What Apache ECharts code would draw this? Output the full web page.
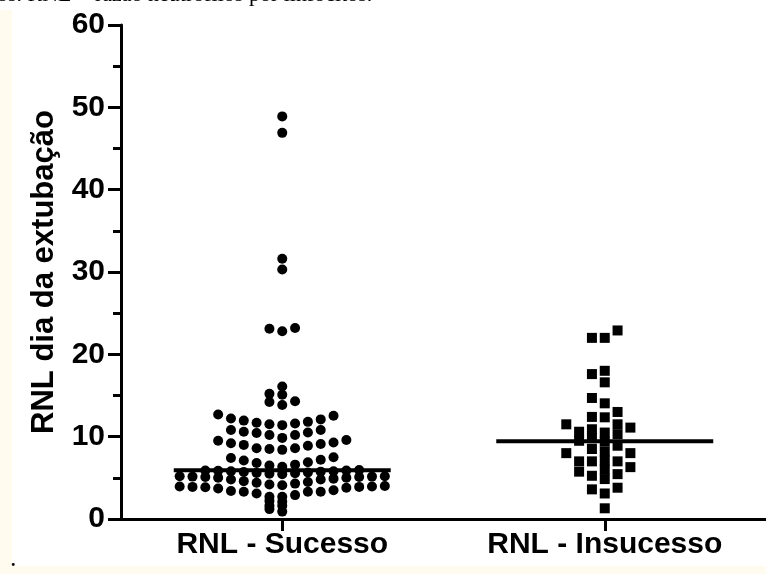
<!DOCTYPE html>
<html><head><meta charset="utf-8">
<script src="https://cdn.jsdelivr.net/npm/echarts@6/dist/echarts.min.js"></script>
<style>html,body{margin:0;padding:0;background:#fff}#c{width:766px;height:574px}</style>
</head><body><div id="c"></div>
<script>
// ---- data ----
const categories = ['RNL - Sucesso', 'RNL - Insucesso'];
const yAxisTitle = 'RNL dia da extubação';
const captionText = 'os. RNL = razão neutrófilos por linfócitos.';
const sucesso = [
  0.9, 1.2, 1.6, 1.6, 2.1, 2.2,
  2.7, 2.7, 2.9, 3.1, 3.3, 3.3, 3.3, 3.4, 3.5, 3.7, 3.8, 3.85, 3.9, 3.9, 3.95, 3.95, 4.0,
  4.1, 4.2, 4.3, 4.4, 4.5, 4.6, 4.8, 4.8, 4.9, 5.0, 5.0, 5.1, 5.1, 5.15, 5.15, 5.2, 5.2,
  5.45, 5.5, 5.55, 5.6, 5.65, 5.7, 5.75, 5.8, 5.8, 5.85, 5.9, 5.9, 5.95,
  6.35, 6.5, 6.6, 6.8, 6.9, 7.1, 7.2, 7.4, 7.5,
  8.4, 8.5, 8.6, 8.6, 8.9, 9.0, 9.1, 9.2, 9.3, 9.5, 9.6,
  9.85, 10.2, 10.2, 10.45, 10.5, 10.6, 10.8, 10.8,
  11.4, 11.5, 11.6, 11.7, 11.8, 11.95, 12.1, 12.2, 12.55, 12.7,
  13.85, 14.2, 14.3, 15.1, 15.2, 16.1,
  22.8, 23.1, 23.2, 30.3, 31.6, 46.9, 48.9
];
const insucesso = [
  22.0, 22.0, 22.9,
  18.0, 17.6, 16.6,
  14.7, 14.05, 13.0, 12.35, 12.4,
  11.5, 11.1, 11.5, 10.6, 10.9, 10.5, 10.3, 9.5, 9.4, 9.8,
  8.9, 8.5, 8.0, 8.0, 8.2,
  7.0, 6.0, 7.0, 7.0, 7.1, 5.75, 6.3,
  5.45, 4.85, 5.25, 3.6, 3.1, 3.8, 1.3
];
const yMin = 0, yMax = 60, yInterval = 10;

// ---- layout helpers ----
const GRID_W = 654, GRID_LEFT = 121, GRID_TOP = 25, GRID_H = 494;
const pxPerUnit = GRID_W / 2;
const colStep = 13 / pxPerUnit;      // horizontal spacing between swarm columns
const medianHalf = 110 / pxPerUnit;

function colOf(k) { return k === 0 ? 0 : (k % 2 ? -(k + 1) / 2 : k / 2); }

// Prism-like rows: values that lie close together share a row, lowest in the middle
function rowSwarm(values, cat, rowH, gapBreak) {
  const s = values.slice().sort((a, b) => a - b);
  const pts = [];
  let i = 0;
  while (i < s.length) {
    const start = s[i];
    const row = [s[i]]; i++;
    while (i < s.length && s[i] < start + rowH - 1e-9 && s[i] - s[i - 1] < gapBreak - 1e-9) { row.push(s[i]); i++; }
    row.forEach((v, k) => pts.push([cat + colOf(k) * colStep, v]));
  }
  return pts;
}
// greedy column swarm
function swarm(values, cat, minGap) {
  const sorted = values.slice().sort((a, b) => a - b);
  const last = {};
  const pts = [];
  sorted.forEach(v => {
    for (let k = 0; k < 400; k++) {
      const col = colOf(k);
      if (last[col] === undefined || v - last[col] >= minGap - 1e-9) {
        last[col] = v; pts.push([cat + col * colStep, v]); break;
      }
    }
  });
  return pts;
}
function median(a) {
  const s = a.slice().sort((x, y) => x - y), n = s.length;
  return n % 2 ? s[(n - 1) / 2] : (s[n / 2 - 1] + s[n / 2]) / 2;
}

const FONT = 'Liberation Sans, Arial, Helvetica, sans-serif';
const chart = echarts.init(document.getElementById('c'), null, { renderer: 'canvas' });
const mS = median(sucesso), mI = median(insucesso);

chart.setOption({
  backgroundColor: '#ffffff',
  animation: false,
  grid: { left: GRID_LEFT, top: GRID_TOP, width: GRID_W, height: GRID_H, containLabel: false },
  xAxis: [
    {
      type: 'category', data: categories, boundaryGap: true,
      axisLine: { show: true, onZero: false, lineStyle: { color: '#000', width: 3 } },
      axisTick: { show: true, alignWithLabel: true, length: 12, lineStyle: { color: '#000', width: 3 } },
      axisLabel: { color: '#000', fontFamily: FONT, fontWeight: 'bold', fontSize: 30, margin: 11 },
      splitLine: { show: false }
    },
    { type: 'value', min: -0.5, max: 1.5, show: false, axisLine: { onZero: false } }
  ],
  yAxis: {
    type: 'value', min: yMin, max: yMax, interval: yInterval,
    name: yAxisTitle, nameLocation: 'middle', nameRotate: 90, nameGap: 61,
    nameTextStyle: { color: '#000', fontFamily: FONT, fontWeight: 'bold', fontSize: 31 },
    axisLine: { show: true, onZero: false, lineStyle: { color: '#000', width: 3 } },
    axisTick: { show: true, length: 13, lineStyle: { color: '#000', width: 3 } },
    minorTick: { show: true, splitNumber: 2, length: 8, lineStyle: { color: '#000', width: 3 } },
    axisLabel: { color: '#000', fontFamily: FONT, fontWeight: 'bold', fontSize: 30, margin: 16 },
    splitLine: { show: false }, minorSplitLine: { show: false }
  },
  series: [
    { type: 'scatter', xAxisIndex: 1, symbol: 'circle', symbolSize: 10, itemStyle: { color: '#000', opacity: 1 }, data: rowSwarm(sucesso, 0, 1.35, 0.4), silent: true },
    { type: 'scatter', xAxisIndex: 1, symbol: 'rect', symbolSize: 10, itemStyle: { color: '#000', opacity: 1 }, data: swarm(insucesso, 1, 1.1), silent: true },
    { type: 'line', xAxisIndex: 1, symbol: 'none', z: 5, lineStyle: { color: '#000', width: 4 }, data: [[0 - medianHalf, mS], [0 + medianHalf, mS]], silent: true },
    { type: 'line', xAxisIndex: 1, symbol: 'none', z: 5, lineStyle: { color: '#000', width: 4 }, data: [[1 - medianHalf, mI], [1 + medianHalf, mI]], silent: true }
  ],
  graphic: [
    { type: 'rect', z: -10, shape: { x: 0, y: 10, width: 12, height: 564 }, style: { fill: '#fffbee' } },
    { type: 'rect', z: -10, shape: { x: 0, y: 566, width: 766, height: 8 }, style: { fill: '#fffbee' } },
    { type: 'text', left: -3, top: -16, style: { text: captionText, font: '22px "Liberation Serif", "Times New Roman", serif', fill: '#000' } },
    { type: 'text', left: 11, top: 552, style: { text: '.', font: 'bold 18px "Liberation Serif", serif', fill: '#000' } }
  ]
});
</script></body></html>
